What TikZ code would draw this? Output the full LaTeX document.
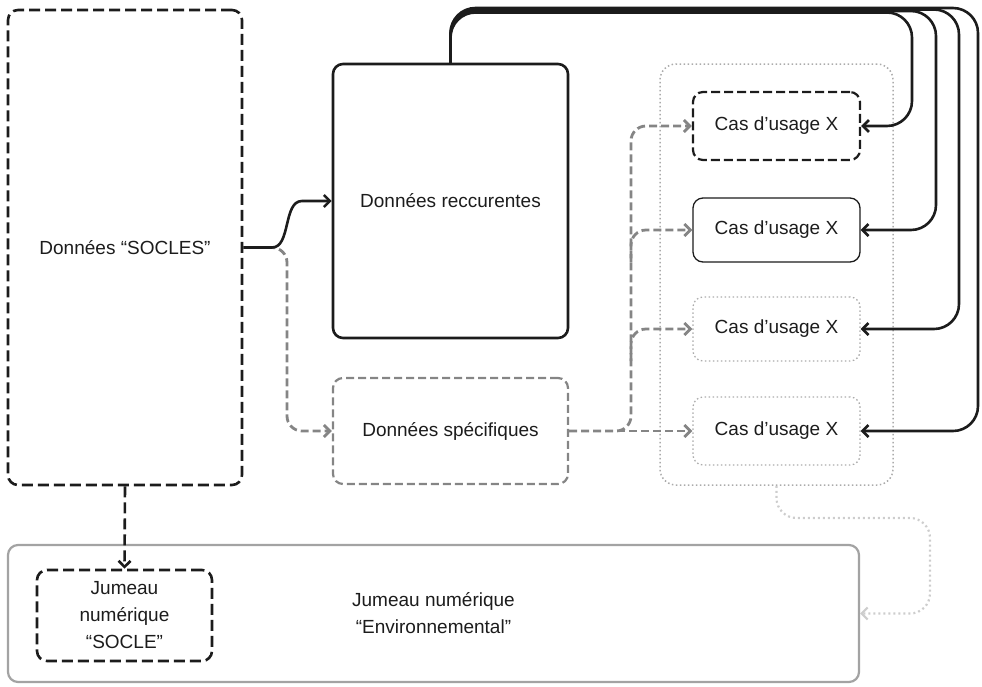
\documentclass[tikz,border=0pt]{standalone}
\usepackage{fontspec}
\setmainfont{Liberation Sans}
\usetikzlibrary{arrows.meta,calc}
\definecolor{ink}{HTML}{1C1C1C}
\definecolor{midgray}{HTML}{858585}
\definecolor{dotgray}{HTML}{ABABAB}
\definecolor{palegray}{HTML}{CDCDCD}
\definecolor{framegray}{HTML}{A3A3A3}
\begin{document}
\begin{tikzpicture}[x=1pt,y=-1pt,
  every node/.style={font=\fontsize{19}{27}\selectfont, text=ink, align=center, inner sep=0pt},
  box/.style={rounded corners=10pt, minimum width=#1},
  solidbox/.style={draw=ink, line width=2.6pt},
  dashbox/.style={draw=ink, line width=2.6pt, dash pattern=on 11pt off 5pt},
  graydash/.style={draw=midgray, line width=2.2pt, dash pattern=on 8pt off 4pt},
  dotbox/.style={draw=dotgray, line width=1.5pt, dash pattern=on 1.5pt off 2.5pt},
  tip/.style={-{Straight Barb[length=6pt,width=12pt]}},
  feed/.style={draw=ink, line width=2.6pt, tip, rounded corners=25pt},
  branch/.style={draw=midgray, line width=2.8pt, dash pattern=on 8pt off 4pt, tip, rounded corners=15pt},
  back/.style={draw=palegray, line width=2.2pt, dash pattern=on 2pt off 3pt, tip, rounded corners=20pt},
]
\useasboundingbox (0,0) rectangle (982,686);

% data sources
\node[box=234pt, dashbox, minimum height=475pt] (socles) at (125,247.5) {Données “SOCLES”};
\node[box=235pt, solidbox, minimum height=274pt] (rec) at (450.5,201) {Données reccurentes};
\node[box=235pt, graydash, minimum height=106pt] (spec) at (450.5,431) {Données spécifiques};

% use-case group
\node[box=233pt, dotbox, rounded corners=16pt, minimum height=421pt] (group) at (776.5,274.5) {};
\node[box=167pt, draw=ink, line width=2.2pt, dash pattern=on 9pt off 4pt, minimum height=68pt] (u1) at (776.5,126) {Cas d’usage X};
\node[box=167pt, draw=ink, line width=1.3pt, minimum height=64pt] (u2) at (776.5,230) {Cas d’usage X};
\node[box=167pt, dotbox, line width=1.3pt, minimum height=64pt] (u3) at (776.5,329) {Cas d’usage X};
\node[box=167pt, dotbox, line width=1.3pt, minimum height=68pt] (u4) at (776.5,431) {Cas d’usage X};

% digital twins
\node[box=851pt, draw=framegray, line width=2.2pt, minimum height=137pt] (env) at (433.5,613.5) {Jumeau numérique\\“Environnemental”};
\node[box=175pt, dashbox, minimum height=91pt] (twin) at (124.5,615.5) {Jumeau\\numérique\\“SOCLE”};

% feeds out of the base data
\draw[branch] (socles.east) -- (287,247.5) -- (287,431) -- (spec.west);
\draw[draw=ink, line width=2.6pt, tip] (socles.east) -- (272,247.5) .. controls (291,247.5) and (283,201) .. (302,201) -- (rec.west);
\draw[draw=ink, line width=2.6pt, dash pattern=on 11pt off 5pt, tip] (socles.south) -- (twin.north);

% specific data dispatched to each use case
\coordinate (bus) at (631,0);
\draw[branch] (spec.east) -- (u4.west);
\draw[branch] (spec.east) -- (spec.east -| bus) -- (u1.west -| bus) -- (u1.west);
\draw[branch] ($(u2.west -| bus)+(0,32)$) -- (u2.west -| bus) -- (u2.west);
\draw[branch] ($(u3.west -| bus)+(0,32)$) -- (u3.west -| bus) -- (u3.west);

% recurring data looping back to every use case
\draw[feed] (rec.north) -- (450.5,12.5) -- (912,12.5) -- (u1.east -| 912,0) -- (u1.east);
\draw[feed] (rec.north) -- (450.5,11) -- (936,11) -- (u2.east -| 936,0) -- (u2.east);
\draw[feed] (rec.north) -- (450.5,9.5) -- (959,9.5) -- (u3.east -| 959,0) -- (u3.east);
\draw[feed] (rec.north) -- (450.5,8) -- (978,8) -- (u4.east -| 978,0) -- (u4.east);

% use cases feeding the environmental twin
\draw[back] (group.south) -- (776.5,518) -- (930,518) -- (930,613.5) -- (env.east);
\end{tikzpicture}
\end{document}
